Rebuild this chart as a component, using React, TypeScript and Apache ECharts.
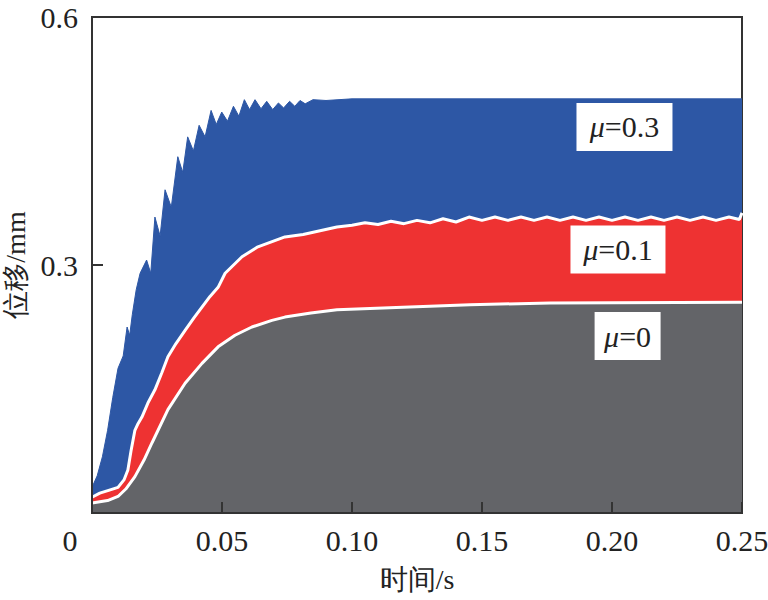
import React, { useEffect, useRef } from "react";
import * as echarts from "echarts";

// μ = 0.3 upper envelope (time s, displacement mm)
const blueT = [0, 0.002, 0.004, 0.006, 0.008, 0.010, 0.012, 0.0135, 0.0145, 0.0155, 0.017, 0.0185, 0.021, 0.0226, 0.0242, 0.0262, 0.0281, 0.0305, 0.033, 0.0349, 0.0368, 0.039, 0.0412, 0.0435, 0.0458, 0.0478, 0.0499, 0.0521, 0.0544, 0.0565, 0.0586, 0.0606, 0.0627, 0.065, 0.0672, 0.0695, 0.0717, 0.0737, 0.076, 0.078, 0.08, 0.082, 0.085, 0.09, 0.1, 0.12, 0.15, 0.2, 0.25];
const blueV = [0.031, 0.045, 0.068, 0.1, 0.14, 0.175, 0.19, 0.225, 0.215, 0.24, 0.27, 0.29, 0.306, 0.29, 0.358, 0.335, 0.391, 0.37, 0.431, 0.412, 0.455, 0.438, 0.469, 0.455, 0.487, 0.47, 0.485, 0.474, 0.492, 0.48, 0.5, 0.488, 0.5, 0.489, 0.498, 0.488, 0.496, 0.49, 0.498, 0.492, 0.499, 0.495, 0.5, 0.499, 0.501, 0.501, 0.501, 0.501, 0.501];

// μ = 0.1 upper envelope
const redT = [0, 0.003, 0.007, 0.010, 0.0123, 0.0138, 0.015, 0.0165, 0.0177, 0.0192, 0.0215, 0.0242, 0.0269, 0.0292, 0.0323, 0.0358, 0.0392, 0.0423, 0.0454, 0.0485, 0.0512, 0.0577, 0.0638, 0.0742, 0.0812, 0.0942, 0.1, 0.105, 0.11, 0.115, 0.12, 0.125, 0.13, 0.135, 0.14, 0.145, 0.15, 0.155, 0.16, 0.165, 0.17, 0.175, 0.18, 0.185, 0.19, 0.195, 0.2, 0.205, 0.21, 0.215, 0.22, 0.225, 0.23, 0.235, 0.24, 0.245, 0.249, 0.25];
const redV = [0.019, 0.024, 0.028, 0.031, 0.04, 0.052, 0.075, 0.1, 0.108, 0.116, 0.133, 0.149, 0.17, 0.189, 0.205, 0.221, 0.236, 0.249, 0.262, 0.273, 0.29, 0.31, 0.322, 0.334, 0.337, 0.346, 0.348, 0.351, 0.349, 0.353, 0.35, 0.354, 0.351, 0.356, 0.352, 0.358, 0.354, 0.358, 0.354, 0.358, 0.354, 0.358, 0.354, 0.358, 0.354, 0.358, 0.354, 0.358, 0.354, 0.358, 0.354, 0.358, 0.354, 0.358, 0.354, 0.358, 0.355, 0.363];

// μ = 0 upper envelope
const grayT = [0, 0.006, 0.010, 0.013, 0.0165, 0.02, 0.0231, 0.0292, 0.0358, 0.0423, 0.0485, 0.055, 0.0615, 0.0692, 0.0742, 0.0842, 0.0942, 0.1196, 0.1454, 0.1762, 0.25];
const grayV = [0.012, 0.015, 0.02, 0.029, 0.044, 0.064, 0.085, 0.125, 0.157, 0.181, 0.201, 0.215, 0.225, 0.233, 0.237, 0.242, 0.246, 0.249, 0.252, 0.254, 0.255];

// label anchors (data coordinates) and texts
const labelNames = ["0.3", "0.1", "0"];
const labelPos = [
  [0.2048, 0.467],
  [0.2023, 0.3187],
  [0.206, 0.214],
];

const xTicks = [0, 0.05, 0.1, 0.15, 0.2, 0.25];
const yTicks = [0, 0.3, 0.6];

const FONT = "'Liberation Serif', serif";
const BLUE = "#2d57a5";
const RED = "#ee3232";
const GRAY = "#636468";
const INK = "#222";

function pairs(t: number[], v: number[]) {
  return t.map((x, i) => [x, v[i]]);
}

function labelPoint(name: string, pos: number[], w: number) {
  return {
    coord: pos,
    symbol: "rect",
    symbolSize: [w, 48],
    itemStyle: { color: "#ffffff" },
    label: {
      show: true,
      position: "inside",
      formatter: `{i|μ}{n|=${name}}`,
      rich: {
        i: { fontFamily: FONT, fontStyle: "italic", fontSize: 30, color: INK },
        n: { fontFamily: FONT, fontSize: 30, color: INK },
      },
    },
  };
}

export default function App() {
  const ref = useRef<HTMLDivElement>(null);
  useEffect(() => {
    document.body.style.margin = "0";
    if (!ref.current) return;
    const chart = echarts.init(ref.current, undefined, { renderer: "svg" });
    const axisLine = { show: true, lineStyle: { color: "#333", width: 2 } };
    chart.setOption({
      animation: false,
      backgroundColor: "#fff",
      grid: {
        left: 92,
        right: 26,
        top: 17,
        bottom: 87,
        containLabel: false,
        outerBoundsMode: "none",
        show: true,
        borderColor: "#333",
        borderWidth: 2,
        backgroundColor: "transparent",
      },
      xAxis: {
        type: "value",
        min: xTicks[0],
        max: xTicks[xTicks.length - 1],
        interval: 0.05,
        z: 10,
        axisLine,
        axisTick: { show: true, inside: true, length: 11, lineStyle: { color: "#333", width: 2 } },
        splitLine: { show: false },
        axisLabel: {
          margin: 12,
          fontFamily: FONT,
          fontSize: 30,
          color: INK,
          formatter: (v: number) => (v === 0 ? "{o|0}" : v.toFixed(2)),
          rich: { o: { fontFamily: FONT, fontSize: 30, color: INK, padding: [0, 44, 0, 0] } },
        },
        name: "时间/s",
        nameLocation: "middle",
        nameGap: 52,
        nameTextStyle: { fontFamily: FONT, fontSize: 28, color: INK },
      },
      yAxis: {
        type: "value",
        min: yTicks[0],
        max: yTicks[yTicks.length - 1],
        interval: 0.3,
        z: 10,
        axisLine,
        axisTick: { show: true, inside: true, length: 11, lineStyle: { color: "#333", width: 2 } },
        splitLine: { show: false },
        axisLabel: {
          margin: 14,
          fontFamily: FONT,
          fontSize: 30,
          color: INK,
          formatter: (v: number) => (v === 0 ? "" : v.toFixed(1)),
        },
        name: "位移/mm",
        nameLocation: "middle",
        nameGap: 60,
        nameTextStyle: { fontFamily: FONT, fontSize: 28, color: INK },
      },
      series: [
        {
          type: "line",
          name: "μ=0.3",
          data: pairs(blueT, blueV),
          showSymbol: false,
          z: 2,
          lineStyle: { color: BLUE, width: 1 },
          areaStyle: { color: BLUE, opacity: 1 },
          markPoint: { z: 20, data: [labelPoint(labelNames[0], labelPos[0], 96)] },
        },
        {
          type: "line",
          name: "μ=0.1",
          data: pairs(redT, redV),
          showSymbol: false,
          z: 3,
          lineStyle: { color: "#ffffff", width: 3 },
          areaStyle: { color: RED, opacity: 1 },
          markPoint: { z: 20, data: [labelPoint(labelNames[1], labelPos[1], 95)] },
        },
        {
          type: "line",
          name: "μ=0",
          data: pairs(grayT, grayV),
          showSymbol: false,
          z: 4,
          lineStyle: { color: "#ffffff", width: 3 },
          areaStyle: { color: GRAY, opacity: 1 },
          markPoint: { z: 20, data: [labelPoint(labelNames[2], labelPos[2], 66)] },
        },
      ],
    });
    return () => chart.dispose();
  }, []);
  return <div ref={ref} style={{ width: 768, height: 600 }} />;
}
